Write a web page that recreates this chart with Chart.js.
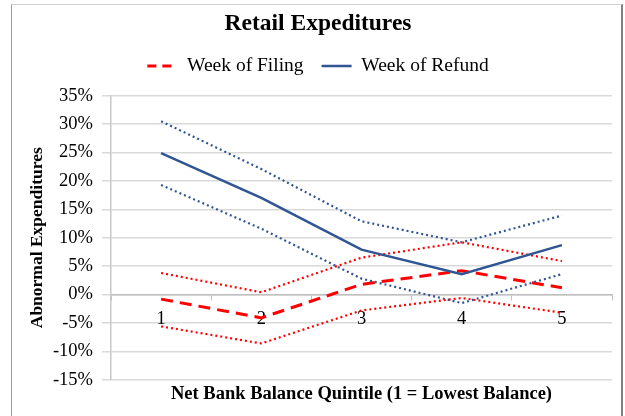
<!DOCTYPE html>
<html>
<head>
<meta charset="utf-8">
<script src="https://cdn.jsdelivr.net/npm/chart.js@4"></script>
<style>
  html, body { margin: 0; padding: 0; background: #ffffff; }
  #wrap { position: relative; width: 625px; height: 416px; }
  #frame { position: absolute; left: 11px; top: 4px; width: 609px; height: 420px;
           border-left: 1px solid #9a9a9a; border-top: 1px solid #d0d0d0; border-right: 2px solid #808080;
           pointer-events: none; }
  canvas { position: absolute; left: 0; top: 0; }
</style>
</head>
<body>
<div id="wrap">
  <canvas id="c" width="625" height="416"></canvas>
  <div id="frame"></div>
</div>
<script>
const categories = ['1', '2', '3', '4', '5'];
const filingMean  = [-0.8, -4.1, 1.8, 4.2, 1.2];
const filingUpper = [3.8, 0.4, 6.5, 9.2, 5.9];
const filingLower = [-5.6, -8.6, -2.8, -0.6, -3.2];
const refundMean  = [24.9, 17.0, 7.9, 3.6, 8.7];
const refundUpper = [30.5, 22.1, 12.9, 9.2, 13.9];
const refundLower = [19.3, 11.6, 2.8, -1.5, 3.6];
const yTicks = [-15, -10, -5, 0, 5, 10, 15, 20, 25, 30, 35];

const RED = '#ff0000';
const NAVY = '#2f5593';
const serif = "'Liberation Serif', 'Times New Roman', serif";

const legendSpacer = {
  id: 'legendSpacer',
  beforeInit(chart) {
    const origFit = chart.legend.fit;
    chart.legend.fit = function () {
      origFit.call(this);
      this.height += 10;
    };
  }
};

new Chart(document.getElementById('c'), {
  type: 'line',
  plugins: [legendSpacer],
  data: {
    labels: categories,
    datasets: [
      { label: 'Week of Filing', data: filingMean, borderColor: RED, backgroundColor: RED,
        borderWidth: 3, borderDash: [12, 7], pointRadius: 0, tension: 0, order: 1 },
      { label: 'Week of Refund', data: refundMean, borderColor: NAVY, backgroundColor: NAVY,
        borderWidth: 2.5, pointRadius: 0, tension: 0, order: 0 },
      { label: 'Filing upper', data: filingUpper, borderColor: RED, borderWidth: 2.2,
        borderDash: [2, 3], pointRadius: 0, tension: 0 },
      { label: 'Filing lower', data: filingLower, borderColor: RED, borderWidth: 2.2,
        borderDash: [2, 3], pointRadius: 0, tension: 0 },
      { label: 'Refund upper', data: refundUpper, borderColor: NAVY, borderWidth: 2.2,
        borderDash: [2, 3], pointRadius: 0, tension: 0 },
      { label: 'Refund lower', data: refundLower, borderColor: NAVY, borderWidth: 2.2,
        borderDash: [2, 3], pointRadius: 0, tension: 0 }
    ]
  },
  options: {
    responsive: false,
    animation: false,
    layout: { padding: { left: 24, right: 13, top: 0, bottom: 7 } },
    plugins: {
      title: { display: true, text: 'Retail Expeditures', color: '#000',
        font: { family: serif, size: 23.5, weight: 'bold' }, padding: { top: 10, bottom: 0 } },
      legend: {
        display: true,
        labels: {
          color: '#000', font: { family: serif, size: 19.5 },
          usePointStyle: true, pointStyleWidth: 30, boxHeight: 4, padding: 18,
          generateLabels: (chart) => chart.data.datasets.slice(0, 2).map((ds, i) => ({
            text: ds.label, fillStyle: ds.borderColor, strokeStyle: ds.borderColor,
            lineWidth: i === 0 ? 3 : 2.5, lineDash: i === 0 ? [9, 6] : [],
            pointStyle: 'line', datasetIndex: i, hidden: false
          }))
        }
      },
      subtitle: { display: true, position: 'bottom', fullSize: false,
        text: 'Net Bank Balance Quintile (1 = Lowest Balance)',
        color: '#000', font: { family: serif, size: 18.5, weight: 'bold' }, padding: { top: 3, bottom: 4 } },
      tooltip: { enabled: false }
    },
    scales: {
      x: {
        position: { y: 0 },
        offset: true,
        grid: { display: true, offset: true, drawOnChartArea: false, drawTicks: true, tickLength: 5, color: '#bfbfbf' },
        border: { display: true, color: '#bfbfbf', width: 1.5 },
        ticks: { color: '#000', font: { family: serif, size: 18.5 }, padding: 8, maxRotation: 0 },
        afterFit: (s) => { s.height = 0; }
      },
      y: {
        min: -15, max: 35,
        afterBuildTicks: (s) => { s.ticks = yTicks.map(v => ({ value: v })); },
        afterFit: (s) => { s.width = 87; },
        grid: { color: '#d9d9d9', lineWidth: 1.5, tickLength: 9 },
        border: { display: true, color: '#c8c8c8', width: 1.5 },
        ticks: { color: '#000', font: { family: serif, size: 18.5 }, padding: 9,
          callback: (v) => v + '%' },
        title: { display: true, text: 'Abnormal Expenditures', color: '#000',
          font: { family: serif, size: 17.5, weight: 'bold' }, padding: { top: 3, bottom: 2 } }
      }
    }
  }
});
</script>
</body>
</html>
